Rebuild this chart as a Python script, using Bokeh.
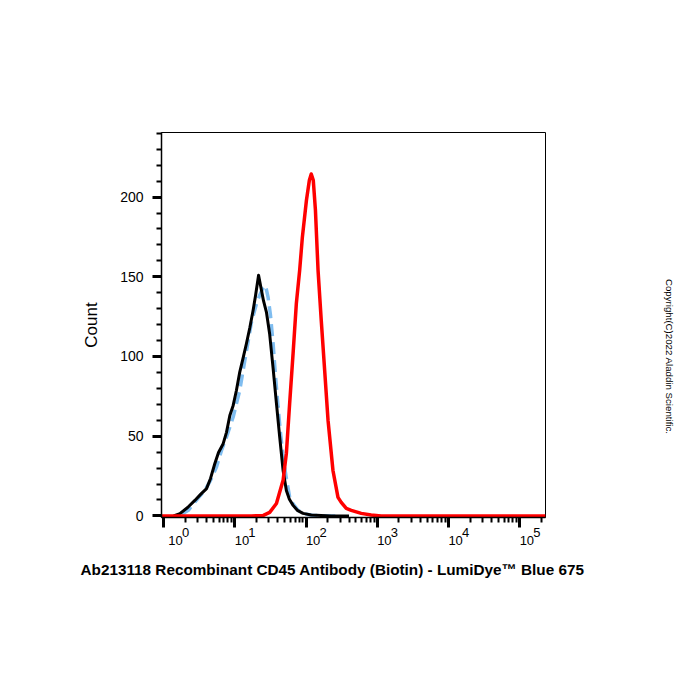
import math
from bokeh.plotting import figure
from bokeh.models import Range1d, FixedTicker, Title, LogAxis, LogScale, LinearAxis
from bokeh.embed import file_html
from bokeh.resources import INLINE

# ---- data (fluorescence intensity, count) ----
isotype_x = [1.38, 1.69, 2.17, 2.74, 3.30, 4.00, 4.55, 5.22, 5.89, 6.85, 7.62, 8.49, 9.46,
             10.5, 11.7, 13.1, 14.5, 16.2, 18.0, 19.5, 21.5, 23.6, 25.2, 27.7, 30.8, 34.4,
             38.3, 42.6, 47.5, 52.8, 58.2, 65.6, 75.3, 90.6, 118, 163, 225, 400]
isotype_y = [0, 1.4, 5.3, 9.7, 13.5, 17.1, 23.5, 32.7, 39.8, 45.3, 52.4, 63, 69.3,
             78.7, 90.2, 99.4, 108, 118, 128.9, 138.3, 151, 141.5, 135, 127.9, 113.9, 92.5,
             70.6, 49.2, 28.5, 16, 10.4, 6.6, 3.5, 1.6, 0.6, 0.3, 0, 0]

blank_x = [1.79, 2.22, 2.74, 3.78, 4.55, 5.52, 6.49, 7.62, 9.46, 11.7, 13.8, 17.1, 20.1,
           22.1, 24.9, 26.2, 27.7, 29.2, 31.6, 34.4, 37.1, 40.4, 43.6, 47.5, 52.8, 58.7,
           66.2, 77.1, 94.4, 126, 224, 300]
blank_y = [1, 3.5, 8.7, 16, 22.3, 30.6, 41.1, 49.4, 62, 78.7, 97.6, 121.6, 133.1,
           138, 143.3, 144.6, 142, 137.3, 125.8, 108, 88, 68.3, 52.4, 36.9, 23.5, 11.8,
           7.2, 3.5, 1.3, 0.3, 0, 0]

stained_x = [0.933, 17.1, 25.1, 30.8, 38.3, 47.5, 52.8, 58.7, 65.6, 72.9, 81.1, 88.5, 101,
             111, 118, 126, 135, 147, 163, 182, 203, 238, 280, 311, 366, 430, 593, 818,
             1130, 229000]
stained_y = [0, 0, 0.3, 2.2, 7.8, 22.3, 39.2, 70.6, 102, 133.3, 154, 174.7, 198,
             210.5, 214.5, 210.5, 192, 154, 122.6, 91.3, 59.9, 28.5, 11.6, 8.5, 4.7, 3.5, 1.6, 0.6,
             0, 0]

x_major = [1, 10, 100, 1000, 10000, 100000]
x_label_base = ["\u2007\u200910", "10", "10", "10", "10", "10"]
x_label_exp = ["\u2007\u20090", "1", "2", "3", "4", "5"]
x_minor = [m * d for d in [1, 10, 100, 1000, 10000, 100000] for m in range(2, 10)]
y_major = [0, 50, 100, 150, 200]
y_minor = list(range(10, 250, 10))

title_text = "Ab213118 Recombinant CD45 Antibody (Biotin) - LumiDye\u2122 Blue 675"
copyright_text = "Copyright(C)2022 Aladdin Scientific."

FONT = "Liberation Sans"
X_LO, X_HI = 0.933, 229000
PX_PER_DECADE = 384 / math.log10(X_HI / X_LO)
BASE_SHIFT = 10 ** (7 / PX_PER_DECADE)   # label "10" sits right of its tick
EXP_SHIFT = 10 ** (17 / PX_PER_DECADE)   # exponent further right
NOTE_PAD = "\u2003" * 6 + "\u2007"       # pushes the centred side note down

p = figure(width=700, height=700, x_axis_type="log",
           x_range=Range1d(X_LO, X_HI), y_range=Range1d(-1, 240.5),
           output_backend="svg", toolbar_location=None,
           min_border_left=161, min_border_right=155,
           min_border_top=132, min_border_bottom=183)
p.xgrid.visible = False
p.ygrid.visible = False
p.outline_line_color = "black"
p.outline_line_width = 1

xa = p.xaxis[0]
xa.ticker = FixedTicker(ticks=x_major, minor_ticks=x_minor)
xa.major_label_overrides = {t: "" for t in x_major}
xa.major_label_standoff = 0
xa.major_label_text_font_size = "1px"
xa.major_tick_in = 0
xa.major_tick_out = 10
xa.major_tick_line_width = 3
xa.minor_tick_in = 0
xa.minor_tick_out = 5
xa.minor_tick_line_width = 2
xa.axis_line_width = 1.5

p.extra_x_ranges = {"exp": Range1d(X_LO / EXP_SHIFT, X_HI / EXP_SHIFT),
                    "base": Range1d(X_LO / BASE_SHIFT, X_HI / BASE_SHIFT)}
p.extra_x_scales = {"exp": LogScale(), "base": LogScale()}


def label_axis(rng, labels, standoff):
    ax = LogAxis(x_range_name=rng, ticker=FixedTicker(ticks=x_major, minor_ticks=[]),
                 major_label_overrides=dict(zip(x_major, labels)),
                 major_tick_in=0, major_tick_out=0, minor_tick_in=0, minor_tick_out=0,
                 axis_line_color=None, major_tick_line_color=None, minor_tick_line_color=None,
                 major_label_standoff=standoff, major_label_text_font=FONT,
                 major_label_text_font_size="13px", major_label_text_color="black")
    p.add_layout(ax, "below")


label_axis("exp", x_label_exp, -3)
label_axis("base", x_label_base, -10)

ya = p.yaxis[0]
ya.ticker = FixedTicker(ticks=y_major, minor_ticks=y_minor)
ya.major_tick_in = 0
ya.major_tick_out = 9
ya.major_tick_line_width = 3
ya.minor_tick_in = 0
ya.minor_tick_out = 5
ya.minor_tick_line_width = 2
ya.axis_line_width = 1.5
ya.major_label_text_font = FONT
ya.major_label_text_font_size = "14px"
ya.major_label_text_color = "black"
ya.major_label_standoff = 9
ya.axis_label = "Count"
ya.axis_label_text_font = FONT
ya.axis_label_text_font_size = "17px"
ya.axis_label_text_font_style = "normal"
ya.axis_label_text_color = "black"
ya.axis_label_standoff = 16

p.line(blank_x, blank_y, line_color="#7fbdf0", line_width=3.5, line_dash="12 6")
p.line(isotype_x, isotype_y, line_color="black", line_width=3, line_join="round")
p.line(stained_x, stained_y, line_color="#ff0000", line_width=3.5, line_join="round")

p.add_layout(Title(text=title_text, align="left", offset=-81, standoff=16,
                   text_font=FONT, text_font_size="15.3px",
                   text_font_style="bold", text_color="black"), "below")

# copyright note as the label of a bare right-hand axis
note_axis = LinearAxis(ticker=FixedTicker(ticks=[], minor_ticks=[]),
                       axis_line_color=None, major_tick_line_color=None,
                       minor_tick_line_color=None, major_tick_out=0, minor_tick_out=0,
                       major_label_standoff=0,
                       axis_label=NOTE_PAD + copyright_text, axis_label_standoff=118,
                       axis_label_text_font=FONT, axis_label_text_font_size="9.7px",
                       axis_label_text_font_style="normal", axis_label_text_color="black")
p.add_layout(note_axis, "right")

open("out.html", "w").write(file_html(p, INLINE))
